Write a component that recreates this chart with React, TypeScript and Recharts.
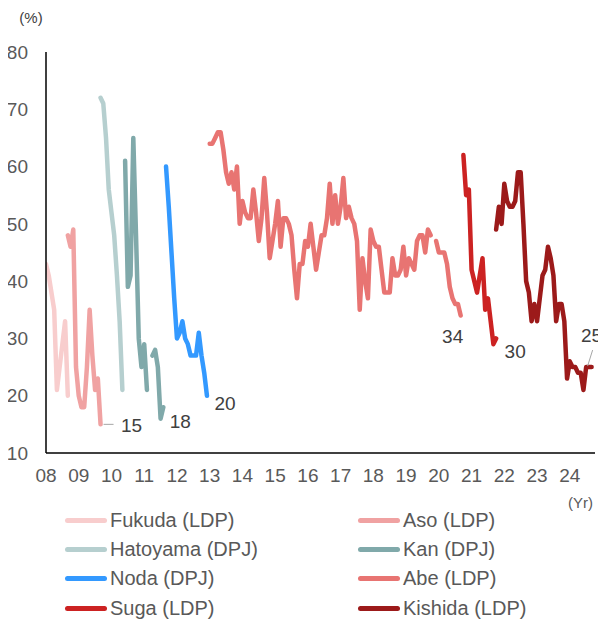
import { LineChart, Line, XAxis, YAxis, Legend, ReferenceDot } from 'recharts'

const YEARS = [2008, 2009, 2010, 2011, 2012, 2013, 2014, 2015, 2016, 2017, 2018, 2019, 2020, 2021, 2022, 2023, 2024]
const Y_TICKS = [10, 20, 30, 40, 50, 60, 70, 80]

// monthly approval ratings (%), first value = start month
const FUKUDA = [43, 41, 38, 35, 21, 25, 29, 33, 20] // 2008-01
const ASO = [48, 46, 49, 25, 20, 18, 18, 25, 35, 27, 21, 23, 15] // 2008-09
const HATOYAMA = [72, 71, 65, 56, 52, 48, 41, 33, 21] // 2009-09
const KAN = [61, 39, 41, 65, 48, 30, 25, 29, 21, null, 27, 28, 25, 16, 18] // 2010-06
const NODA = [60, 53, 45, 37, 30, 31, 33, 30, 29, 27, 27, 27, 31, 27, 24, 20] // 2011-09
const ABE = [
  64, 64, 65, 66, 66, 63, 59, 57, 59, 56,
  60, 50, 54, 52, 51, 51, 56, 52, 47, 51,
  58, 52, 44, 47, 50, 54, 46, 51, 51, 50,
  48, 42, 37, 43, 43, 47, 46, 50, 46, 42,
  45, 48, 48, 51, 57, 50, 55, 50, 53, 58,
  51, 53, 51, 50, 47, 35, 44, 40, 37, 49,
  47, 46, 46, 42, 38, 38, 38, 44, 41, 41,
  42, 46, 41, 44, 43, 42, 47, 48, 48, 45,
  49, 48, null, 47, 45, 45, 45, 43, 39, 37,
  36, 36, 34,
] // 2013-01
const SUGA = [62, 55, 56, 42, 40, 38, 41, 44, 35, 37, 33, 29, 30] // 2020-10
const KISHIDA = [
  49, 53, 50, 57, 54, 53, 53, 54, 59, 59,
  50, 40, 38, 33, 36, 33, 37, 41, 42, 46,
  44, 41, 33, 36, 36, 33, 23, 26, 25, 25,
  24, 24, 21, 25, 25, 25,
] // 2021-10

type Pt = { t: number; v: number | null }

const monthly = (year: number, month: number, values: (number | null)[]): Pt[] =>
  values.map((v, i) => ({ t: year + (month - 1 + i) / 12, v }))

const SERIES = [
  { name: 'Fukuda (LDP)', color: '#f8cdcd', data: monthly(2008, 1, FUKUDA) },
  { name: 'Aso (LDP)', color: '#f0a2a2', data: monthly(2008, 9, ASO) },
  { name: 'Hatoyama (DPJ)', color: '#b6cfcf', data: monthly(2009, 9, HATOYAMA) },
  { name: 'Kan (DPJ)', color: '#80a9aa', data: monthly(2010, 6, KAN) },
  { name: 'Noda (DPJ)', color: '#3399ff', data: monthly(2011, 9, NODA) },
  { name: 'Abe (LDP)', color: '#e87472', data: monthly(2013, 1, ABE) },
  { name: 'Suga (LDP)', color: '#cc2222', data: monthly(2020, 10, SUGA) },
  { name: 'Kishida (LDP)', color: '#9c1a1a', data: monthly(2021, 10, KISHIDA) },
]

// end-value tags: series index, text offset, optional leader line
const TAGS = [
  { s: 1, dx: 31, dy: 1, leader: [3, 0, 13, 0] },
  { s: 3, dx: 17, dy: 14 },
  { s: 4, dx: 18, dy: 8 },
  { s: 5, dx: -8, dy: 21 },
  { s: 6, dx: 19, dy: 13 },
  { s: 7, dx: 0, dy: -32, leader: [-4, -1, 1, -17] },
]

function EndTag(props: any) {
  const { viewBox, text, dx, dy, leader } = props
  const x = viewBox.x
  const y = viewBox.y
  return (
    <g>
      {leader && (
        <line
          x1={x + leader[0]}
          y1={y + leader[1]}
          x2={x + leader[2]}
          y2={y + leader[3]}
          stroke="#a6a6a6"
          strokeWidth={1}
        />
      )}
      <text x={x + dx} y={y + dy} textAnchor="middle" dominantBaseline="central" fontSize={19} fill="#404040">
        {text}
      </text>
    </g>
  )
}

function LegendGrid() {
  return (
    <div style={{ position: 'relative', width: 598, height: 141, fontSize: 20, color: '#595959' }}>
      <span style={{ position: 'absolute', right: 13, top: 11, fontSize: 15, lineHeight: '17px' }}>(Yr)</span>
      {SERIES.map((s, i) => (
        <div
          key={s.name}
          style={{
            position: 'absolute',
            left: i % 2 ? 350 : 57,
            top: 37 + Math.floor(i / 2) * 29.4 - 14,
            height: 28,
            display: 'flex',
            alignItems: 'center',
            whiteSpace: 'nowrap',
          }}
        >
          <span style={{ display: 'inline-block', width: 42, height: 5, borderRadius: 3, background: s.color, marginRight: 3 }} />
          {s.name}
        </div>
      ))}
    </div>
  )
}

export default function App() {
  return (
    <div style={{ fontFamily: '"Liberation Sans", Arial, sans-serif' }}>
      <LineChart width={598} height={616} margin={{ top: 44, right: 11, bottom: 0, left: 8 }}>
        <XAxis
          dataKey="t"
          type="number"
          domain={[2008, 2024.77]}
          ticks={YEARS}
          tickFormatter={(v: number) => String(v % 100).padStart(2, '0')}
          interval={0}
          height={30}
          tick={{ fontSize: 19, fill: '#595959' }}
          tickLine={false}
          tickSize={0}
          tickMargin={16}
          axisLine={{ stroke: '#000', strokeWidth: 1.5 }}
          allowDataOverflow
        />
        <YAxis
          type="number"
          domain={[10, 80]}
          ticks={Y_TICKS}
          interval={0}
          width={30}
          tick={{ fontSize: 19, fill: '#595959' }}
          tickLine={false}
          tickSize={0}
          tickMargin={18}
          axisLine={{ stroke: '#000', strokeWidth: 1.5 }}
          label={{ value: '(%)', position: 'top', offset: 29, fontSize: 15, fill: '#404040' }}
          allowDataOverflow
        />
        <Legend verticalAlign="bottom" width={598} wrapperStyle={{ left: 0, bottom: 0 }} content={() => <LegendGrid />} />
        {SERIES.map(s => (
          <Line
            key={s.name}
            data={s.data}
            dataKey="v"
            name={s.name}
            stroke={s.color}
            strokeWidth={4.5}
            strokeLinejoin="round"
            strokeLinecap="round"
            dot={false}
            activeDot={false}
            isAnimationActive={false}
          />
        ))}
        {TAGS.map(tag => {
          const last = SERIES[tag.s].data[SERIES[tag.s].data.length - 1]
          return (
            <ReferenceDot
              key={tag.s}
              x={last.t}
              y={last.v as number}
              r={0}
              fill="none"
              stroke="none"
              ifOverflow="visible"
              label={<EndTag text={String(last.v)} dx={tag.dx} dy={tag.dy} leader={tag.leader} />}
            />
          )
        })}
      </LineChart>
    </div>
  )
}
